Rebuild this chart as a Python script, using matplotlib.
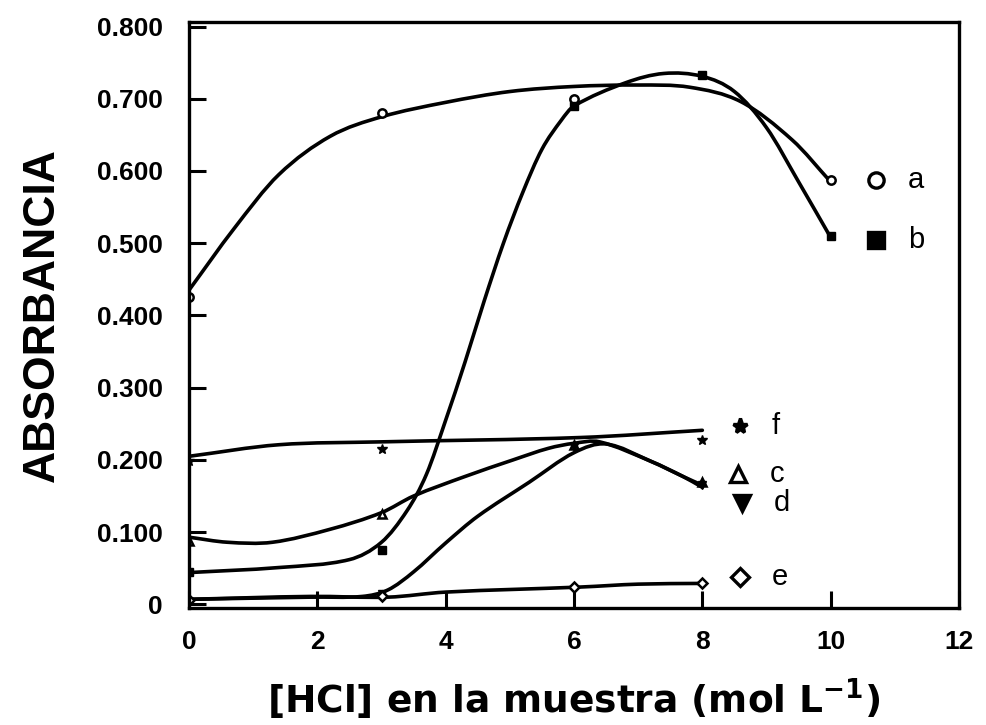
import matplotlib
matplotlib.use("Agg")
import matplotlib.pyplot as plt
from matplotlib.path import Path
from matplotlib.patches import PathPatch

plt.rcParams['font.family'] = ['Liberation Sans', 'DejaVu Sans']
plt.rcParams['mathtext.default'] = 'regular'

# measured points (markers)
a_x = [0, 3, 6, 10]
a_y = [0.425, 0.680, 0.700, 0.588]
b_x = [0, 3, 6, 8, 10]
b_y = [0.045, 0.075, 0.690, 0.733, 0.510]
c_x = [0, 3, 6, 8]
c_y = [0.088, 0.125, 0.220, 0.170]
d_x = [0, 3, 6, 8]
d_y = [0.003, 0.015, 0.218, 0.165]
e_x = [0, 3, 6, 8]
e_y = [0.006, 0.012, 0.024, 0.029]
f_x = [0, 3, 8]
f_y = [0.198, 0.215, 0.228]

# fitted curves as drawn in the figure
a_cx = [0, 0.7, 1.4, 2.2, 3.0, 4.0, 5.0, 6.0, 7.0, 7.8, 8.6, 9.4, 10]
a_cy = [0.435, 0.520, 0.595, 0.648, 0.675, 0.695, 0.710, 0.717, 0.719, 0.716, 0.696, 0.643, 0.585]
b_cx = [0, 1.4, 2.5, 3.0, 3.4, 3.7, 4.0, 4.3, 4.6, 4.9, 5.2, 5.5, 5.8, 6.0, 6.8, 7.4, 8.0, 8.5, 9.0, 9.5, 10]
b_cy = [0.044, 0.051, 0.062, 0.086, 0.130, 0.180, 0.255, 0.335, 0.420, 0.500, 0.570, 0.630, 0.670,
        0.690, 0.722, 0.735, 0.731, 0.710, 0.660, 0.585, 0.508]
c_cx = [0, 0.6, 1.3, 2.2, 3.0, 3.5, 4.3, 5.05, 5.6, 6.0, 6.4, 7.2, 7.7, 8.0]
c_cy = [0.093, 0.086, 0.086, 0.104, 0.127, 0.150, 0.177, 0.200, 0.216, 0.223, 0.225, 0.198, 0.177, 0.162]
d_cx = [0, 1.9, 2.7, 3.1, 3.5, 4.0, 4.5, 5.3, 6.0, 6.5, 7.2, 7.7, 8.0]
d_cy = [0.007, 0.010, 0.011, 0.020, 0.045, 0.085, 0.122, 0.169, 0.210, 0.222, 0.198, 0.177, 0.165]
e_cx = [0, 1.9, 3.1, 4.0, 6.1, 7.0, 8.0]
e_cy = [0.007, 0.011, 0.010, 0.017, 0.024, 0.028, 0.029]
f_cx = [0, 1.4, 3.0, 6.1, 8.0]
f_cy = [0.205, 0.221, 0.225, 0.231, 0.241]

xticks = [0, 2, 4, 6, 8, 10, 12]
yticks = [0, 0.1, 0.2, 0.3, 0.4, 0.5, 0.6, 0.7, 0.8]
ylabels = ['0', '0.100', '0.200', '0.300', '0.400', '0.500', '0.600', '0.700', '0.800']

# key: label, marker, filled, marker x, marker y
keys = [('a', 'o', False, 10.7, 0.588),
        ('b', 's', True, 10.7, 0.505),
        ('f', '*', True, 8.58, 0.247),
        ('c', '^', False, 8.55, 0.180),
        ('d', 'v', True, 8.62, 0.140),
        ('e', 'D', False, 8.58, 0.038)]


def smooth_path(xs, ys):
    # cubic Hermite through the points, slopes from neighbours
    n = len(xs)
    m = []
    for i in range(n):
        if i == 0:
            m.append((ys[1] - ys[0]) / (xs[1] - xs[0]))
        elif i == n - 1:
            m.append((ys[-1] - ys[-2]) / (xs[-1] - xs[-2]))
        else:
            m.append((ys[i + 1] - ys[i - 1]) / (xs[i + 1] - xs[i - 1]))
    verts = [(xs[0], ys[0])]
    codes = [Path.MOVETO]
    for i in range(n - 1):
        h = xs[i + 1] - xs[i]
        verts += [(xs[i] + h / 3, ys[i] + m[i] * h / 3),
                  (xs[i + 1] - h / 3, ys[i + 1] - m[i + 1] * h / 3),
                  (xs[i + 1], ys[i + 1])]
        codes += [Path.CURVE4] * 3
    return Path(verts, codes)


fig = plt.figure(figsize=(9.86, 7.25), dpi=100)
ax = fig.add_axes([0.1917, 0.1614, 0.7809, 0.808])

for cx, cy in [(a_cx, a_cy), (b_cx, b_cy), (c_cx, c_cy), (d_cx, d_cy), (e_cx, e_cy), (f_cx, f_cy)]:
    ax.add_patch(PathPatch(smooth_path(cx, cy), fill=False, lw=2.6, ec='black', capstyle='round'))

ax.plot(a_x, a_y, 'o', ms=6, mfc='white', mec='black', mew=1.8, ls='none')
ax.plot(b_x, b_y, 's', ms=6, mfc='black', mec='black', ls='none')
ax.plot(c_x, c_y, '^', ms=6, mfc='white', mec='black', mew=1.8, ls='none')
ax.plot(d_x, d_y, 'v', ms=6, mfc='black', mec='black', ls='none')
ax.plot(e_x, e_y, 'D', ms=5, mfc='white', mec='black', mew=1.8, ls='none')
ax.plot(f_x, f_y, '*', ms=7, mfc='black', mec='black', ls='none')

for lab, mk, filled, kx, ky in keys:
    ax.plot([kx], [ky], mk, ms=11 if mk != 'D' else 9, mfc='black' if filled else 'white',
            mec='black', mew=2.4, ls='none', clip_on=False)
    ax.text(kx + 0.5, ky, lab, fontsize=21, va='center', ha='left')

ax.set_xlim(0, 12)
ax.set_ylim(-0.005, 0.806)
ax.set_xticks(xticks)
ax.set_yticks(yticks)
ax.set_yticklabels(ylabels)
ax.tick_params(direction='in', length=12, width=2.2, labelsize=19)
ax.tick_params(axis='y', pad=19)
ax.tick_params(axis='x', pad=16)
for lbl in ax.get_xticklabels() + ax.get_yticklabels():
    lbl.set_fontweight('bold')
for sp in ax.spines.values():
    sp.set_linewidth(2.4)

ax.set_ylabel('ABSORBANCIA', fontsize=32, fontweight='bold', labelpad=24)
ax.set_xlabel('[HCl] en la muestra (mol L$^{-1}$)', fontsize=27, fontweight='bold',
              family=['DejaVu Sans'], labelpad=16)

fig.savefig('out.png', dpi=100)
